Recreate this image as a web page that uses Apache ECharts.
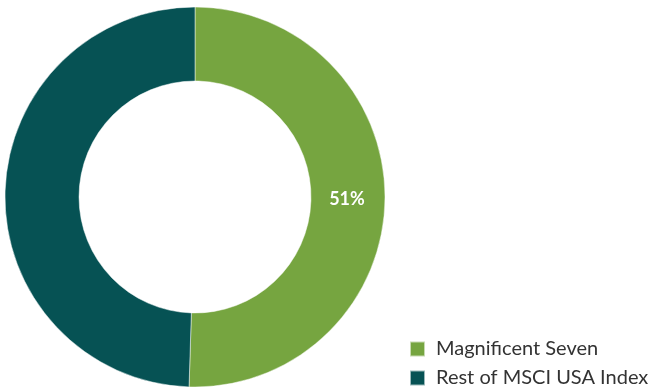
<!DOCTYPE html>
<html>
<head>
<meta charset="utf-8">
<style>
  html, body { margin: 0; padding: 0; background: #fff; }
  #root { width: 651px; height: 392px; }
</style>
<script src="https://cdn.jsdelivr.net/npm/echarts@6/dist/echarts.min.js"></script>
</head>
<body>
<div id="root"></div>
<script>
const categories = ['Magnificent Seven', 'Rest of MSCI USA Index'];
const shares = [50.5, 49.5];
const colors = ['#76a540', '#065254'];

let root = document.getElementById('root');
let myCharts = echarts.init(root);
let option = {
    animation: false,
    color: colors,
    legend: {
        orient: 'vertical',
        left: 409,
        top: 338,
        padding: 0,
        itemWidth: 15,
        itemHeight: 15,
        itemGap: 7,
        icon: 'rect',
        textStyle: { fontFamily: 'Lato', fontSize: 20, lineHeight: 22, color: '#333', padding: [0, 0, 0, 6] },
        data: categories
    },
    series: [
        {
            type: 'pie',
            center: [195, 197],
            radius: [116, 190],
            startAngle: 90,
            clockwise: true,
            itemStyle: { borderColor: 'rgba(255,255,255,0.6)', borderWidth: 0.8 },
            label: {
                show: true,
                position: 'inside',
                color: '#fff',
                fontFamily: 'Lato',
                fontWeight: 'bold',
                fontSize: 18,
                offset: [-4, 0],
                formatter: function (p) { return p.dataIndex === 0 ? Math.round(p.value) + '%' : ''; }
            },
            labelLine: { show: false },
            emphasis: { disabled: true },
            data: categories.map((name, i) => ({ name: name, value: shares[i] }))
        }
    ]
};
myCharts.setOption(option);
</script>
</body>
</html>
